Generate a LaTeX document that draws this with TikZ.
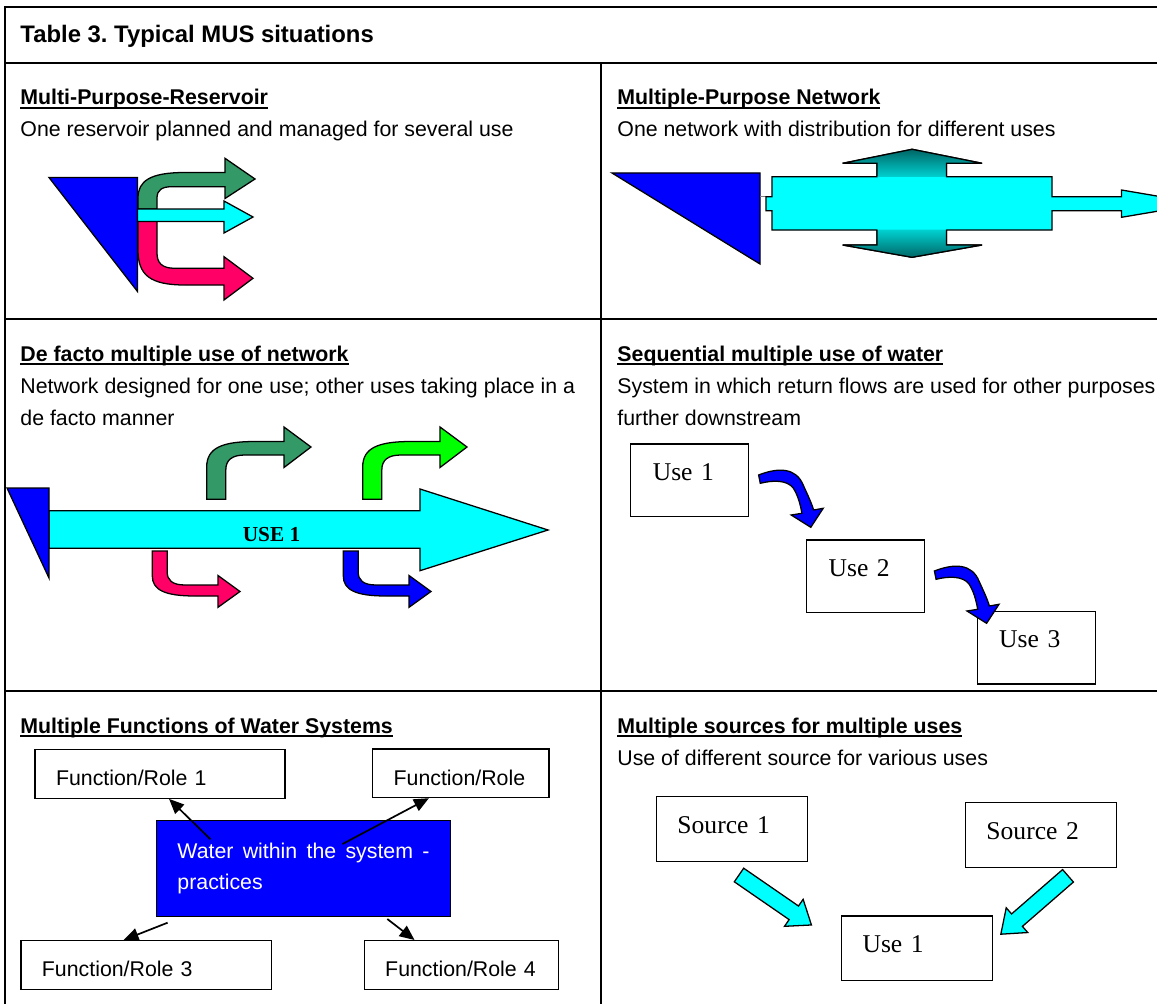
\documentclass[tikz,border=0pt]{standalone}
\usepackage{fontspec}
\setmainfont{Liberation Sans}
\newfontfamily\timesfont{Liberation Serif}
\usetikzlibrary{arrows.meta,calc}

\definecolor{aqua}{RGB}{0,255,255}
\definecolor{seagreen}{RGB}{51,153,102}
\definecolor{rosered}{RGB}{255,0,102}
\definecolor{darkteal}{RGB}{0,102,102}
\frenchspacing

\newcommand*{\ulhead}[1]{\setbox0\hbox{\bfseries #1}\rlap{\rule[-1.8pt]{\wd0}{0.9pt}}\box0}

\begin{document}
\begin{tikzpicture}[x=0.469pt, y=-0.469pt]
    \tikzstyle{tableline} = [line width=1pt]
    \tikzstyle{heading} = [anchor=base west, inner sep=0pt]
    \tikzstyle{note} = [anchor=base west, inner sep=0pt, align=left, font=\fontsize{10}{15}\selectfont]
    \tikzstyle{flow} = [draw=black, line width=0.6pt]
    \tikzstyle{feed} = [draw=black, fill=aqua, line width=0.6pt]
    \tikzstyle{usebox} = [draw, line width=0.6pt, anchor=north west, inner xsep=10.3pt, inner ysep=0pt, text width=34.7pt, text height=17.1pt, text depth=17pt, align=left, font=\timesfont\fontsize{12}{14}\selectfont]
    \tikzstyle{srcbox} = [usebox, inner xsep=9.85pt, text width=51.1pt, text height=17.3pt, text depth=13.1pt]
    \tikzstyle{rolebox} = [draw, line width=0.6pt, anchor=north west, inner xsep=9.85pt, inner ysep=0pt, text height=17pt, text depth=5.8pt, align=left]
    \tikzstyle{waterbox} = [draw, fill=blue, text=white, line width=0.6pt, anchor=north west, minimum height=45pt, inner xsep=9.85pt, inner ysep=0pt, text width=118.2pt, align=justify, font=\fontsize{10}{14.8}\selectfont]
    \tikzstyle{arrow} = [line width=0.8pt, -{Triangle[length=7pt,width=6pt]}]

    \newcommand*{\riseflow}[2]{\draw[flow, fill=#2, shift={(#1,0)}] (206.7,499.3) -- (206.7,467) .. controls (206.7,448) and (222,441.5) .. (255,441.5) -- (284,441.5) -- (284,427) -- (311,447) -- (284,467.5) -- (284,455) -- (245,455) .. controls (232,455) and (225.8,460) .. (225.8,470) -- (225.8,499.3) -- cycle;}
    \newcommand*{\dropflow}[2]{\draw[flow, fill=#2, shift={(#1,0)}] (152.3,551) -- (152.3,576) .. controls (152.3,590) and (165,596) .. (195,596) -- (218,596) -- (218,607.3) -- (240,591.5) -- (218,575.5) -- (218,585) -- (185,585) .. controls (172,585) and (167.2,580) .. (167.2,572) -- (167.2,551) -- cycle;}
    \newcommand*{\stepflow}[1]{\draw[flow, fill=blue, shift={(#1.north east)}] (9.2,31.7) .. controls (29.8,23.7) and (46.8,24.7) .. (53.8,41.7) .. controls (57.8,50.7) and (61.8,58.7) .. (64.2,66.7) -- (73.8,65) -- (61.4,84) -- (41.8,71.7) -- (52.5,70) .. controls (50.8,59.7) and (47.8,50.7) .. (43.8,44.7) .. controls (37.8,36.7) and (23.8,36.7) .. (10.9,40) -- cycle;}
    \newcommand*{\feedarrow}[3]{\draw[feed, shift={#1}, rotate=#2] (0,-8.25) -- ({#3-21.4},-8.25) -- ({#3-21.4},-16.4) -- (#3,0) -- ({#3-21.4},16.4) -- ({#3-21.4},8.25) -- (0,8.25) -- cycle;}

    \useasboundingbox (0,0) rectangle (1157,1004);

    % table frame
    \draw[tableline] (5,1004) -- (5,7) -- (1157,7);
    \draw[tableline] (5,63) -- (1157,63);
    \draw[tableline] (5,319) -- (1157,319);
    \draw[tableline] (5,691) -- (1157,691);
    \draw[tableline] (601,63) -- (601,1004);

    \node (title) [heading, font=\bfseries\fontsize{11.2}{14}\selectfont] at (20,43) {Table 3. Typical MUS situations};

    % multi-purpose reservoir
    \node (mpr) [heading] at (20,105) {\ulhead{Multi-Purpose-Reservoir}};
    \node (mprtext) [note] at (20,137) {One reservoir planned and managed for several use};
    \draw[flow, fill=blue] (49,177.5) -- (137.5,177.5) -- (137.5,291.5) -- cycle;
    \draw[flow, fill=seagreen] (138,209) -- (138,198) .. controls (138,181) and (150,172.5) .. (185,172.5) -- (225,172.5) -- (225,158.3) -- (255,179) -- (225,198.5) -- (225,186.7) -- (172,186.7) .. controls (162,186.7) and (157,190) .. (157,198) -- (157,209) -- cycle;
    \draw[flow, fill=rosered] (138,221) -- (138,250) .. controls (138,275) and (150,285) .. (185,285) -- (224,285) -- (224,300) -- (253,278.3) -- (224,256.7) -- (224,268.3) -- (175,268.3) .. controls (162,268.3) and (157,263) .. (157,253) -- (157,221) -- cycle;
    \draw[flow, fill=aqua] (137.5,209) -- (224,209) -- (224,201) -- (253,217) -- (224,233) -- (224,221.5) -- (137.5,221.5) -- cycle;

    % multiple-purpose network
    \node (mpn) [heading] at (617,105) {\ulhead{Multiple-Purpose Network}};
    \node (mpntext) [note] at (617,137) {One network with distribution for different uses};
    \draw[flow, fill=blue] (612,173) -- (760,173) -- (760,264) -- cycle;
    \draw[line width=0.6pt, gray] (760,196.7) -- (766,196.7);
    \draw[flow, fill=aqua] (766,196.7) -- (772,196.7) -- (772,176.7) -- (877,176.7) -- (877,163.3) -- (842.6,163.3) -- (912,149.3) -- (982,163.3) -- (946.4,163.3) -- (946.4,176.7) -- (1052,176.7) -- (1052,196.7) -- (1121.5,196.7) -- (1121.5,190) -- (1202,203.7) -- (1121.5,217.3) -- (1121.5,210.7) -- (1052,210.7) -- (1052,230) -- (946.4,230) -- (946.4,245) -- (982,245) -- (912,257.3) -- (842.6,245) -- (877,245) -- (877,230) -- (772,230) -- (772,210.7) -- (766,210.7) -- cycle;
    \shade[top color=darkteal, bottom color=aqua!70!darkteal] (877,177) -- (877,163.3) -- (842.6,163.3) -- (912,149.3) -- (982,163.3) -- (946.4,163.3) -- (946.4,177) -- cycle;
    \shade[top color=aqua!70!darkteal, bottom color=darkteal] (877,229.7) -- (877,245) -- (842.6,245) -- (912,257.3) -- (982,245) -- (946.4,245) -- (946.4,229.7) -- cycle;
    \draw[flow] (877,176.7) -- (877,163.3) -- (842.6,163.3) -- (912,149.3) -- (982,163.3) -- (946.4,163.3) -- (946.4,176.7);
    \draw[flow] (877,230) -- (877,245) -- (842.6,245) -- (912,257.3) -- (982,245) -- (946.4,245) -- (946.4,230);

    % de facto multiple use
    \node (dfm) [heading] at (20,361) {\ulhead{De facto multiple use of network}};
    \node (dfmtext) [note] at (20,425) {Network designed for one use; other uses taking place in a\\de facto manner};
    \draw[flow, fill=aqua] (49,510.7) -- (420,510.7) -- (420,489) -- (548,530) -- (420,570.7) -- (420,548.3) -- (49,548.3) -- cycle;
    \draw[flow, fill=blue] (7,488) -- (49,488) -- (49,578) -- cycle;
    \node (mainuse) [font=\timesfont\bfseries, anchor=base, inner sep=0pt] at (271.5,541.7) {USE 1};
    \riseflow{0}{seagreen}
    \riseflow{156}{green}
    \dropflow{0}{rosered}
    \dropflow{191}{blue}

    % sequential use
    \node (seq) [heading] at (617,361) {\ulhead{Sequential multiple use of water}};
    \node (seqtext) [note] at (617,425) {System in which return flows are used for other purposes\\further downstream};
    \node (use1) [usebox] at (630.2,443.3) {Use 1};
    \node (use2) [usebox] at (806,539.3) {Use 2};
    \node (use3) [usebox] at (976.6,610.7) {Use 3};
    \stepflow{use1}
    \stepflow{use2}

    % multiple functions
    \node (mfw) [heading] at (20,733) {\ulhead{Multiple Functions of Water Systems}};
    \node (role1) [rolebox, text width=97.5pt] at (34.4,749) {Function/Role 1};
    \node (role2) [rolebox, text width=63pt] at (372,748.3) {Function/Role};
    \node (water) [waterbox] at (155.8,820) {Water within the system - practices};
    \node (role3) [rolebox, text width=97.7pt] at (20.3,940) {Function/Role 3};
    \node (role4) [rolebox, text width=71.5pt] at (363.6,940) {Function/Role 4};
    \coordinate (w1) at (210.5,839.3);
    \coordinate (w2) at (342.5,844);
    \coordinate (w3) at (167.6,922.7);
    \coordinate (w4) at (387.3,919);
    \draw[arrow] (w1) -- (role1.290);
    \draw[arrow] (w2) -- (role2.218);
    \draw[arrow] (w3) -- (role3.132);
    \draw[arrow] (w4) -- (role4.152);

    % multiple sources
    \node (msm) [heading] at (617,733) {\ulhead{Multiple sources for multiple uses}};
    \node (msmtext) [note] at (617,765) {Use of different source for various uses};
    \node (src1) [srcbox] at (655.8,796) {Source 1};
    \node (src2) [srcbox] at (964.8,801.7) {Source 2};
    \node (target) [srcbox] at (840.9,915.3) {Use 1};
    \feedarrow{(739,875)}{-34.6}{88}
    \feedarrow{(1068,875.8)}{221}{89}
\end{tikzpicture}
\end{document}
